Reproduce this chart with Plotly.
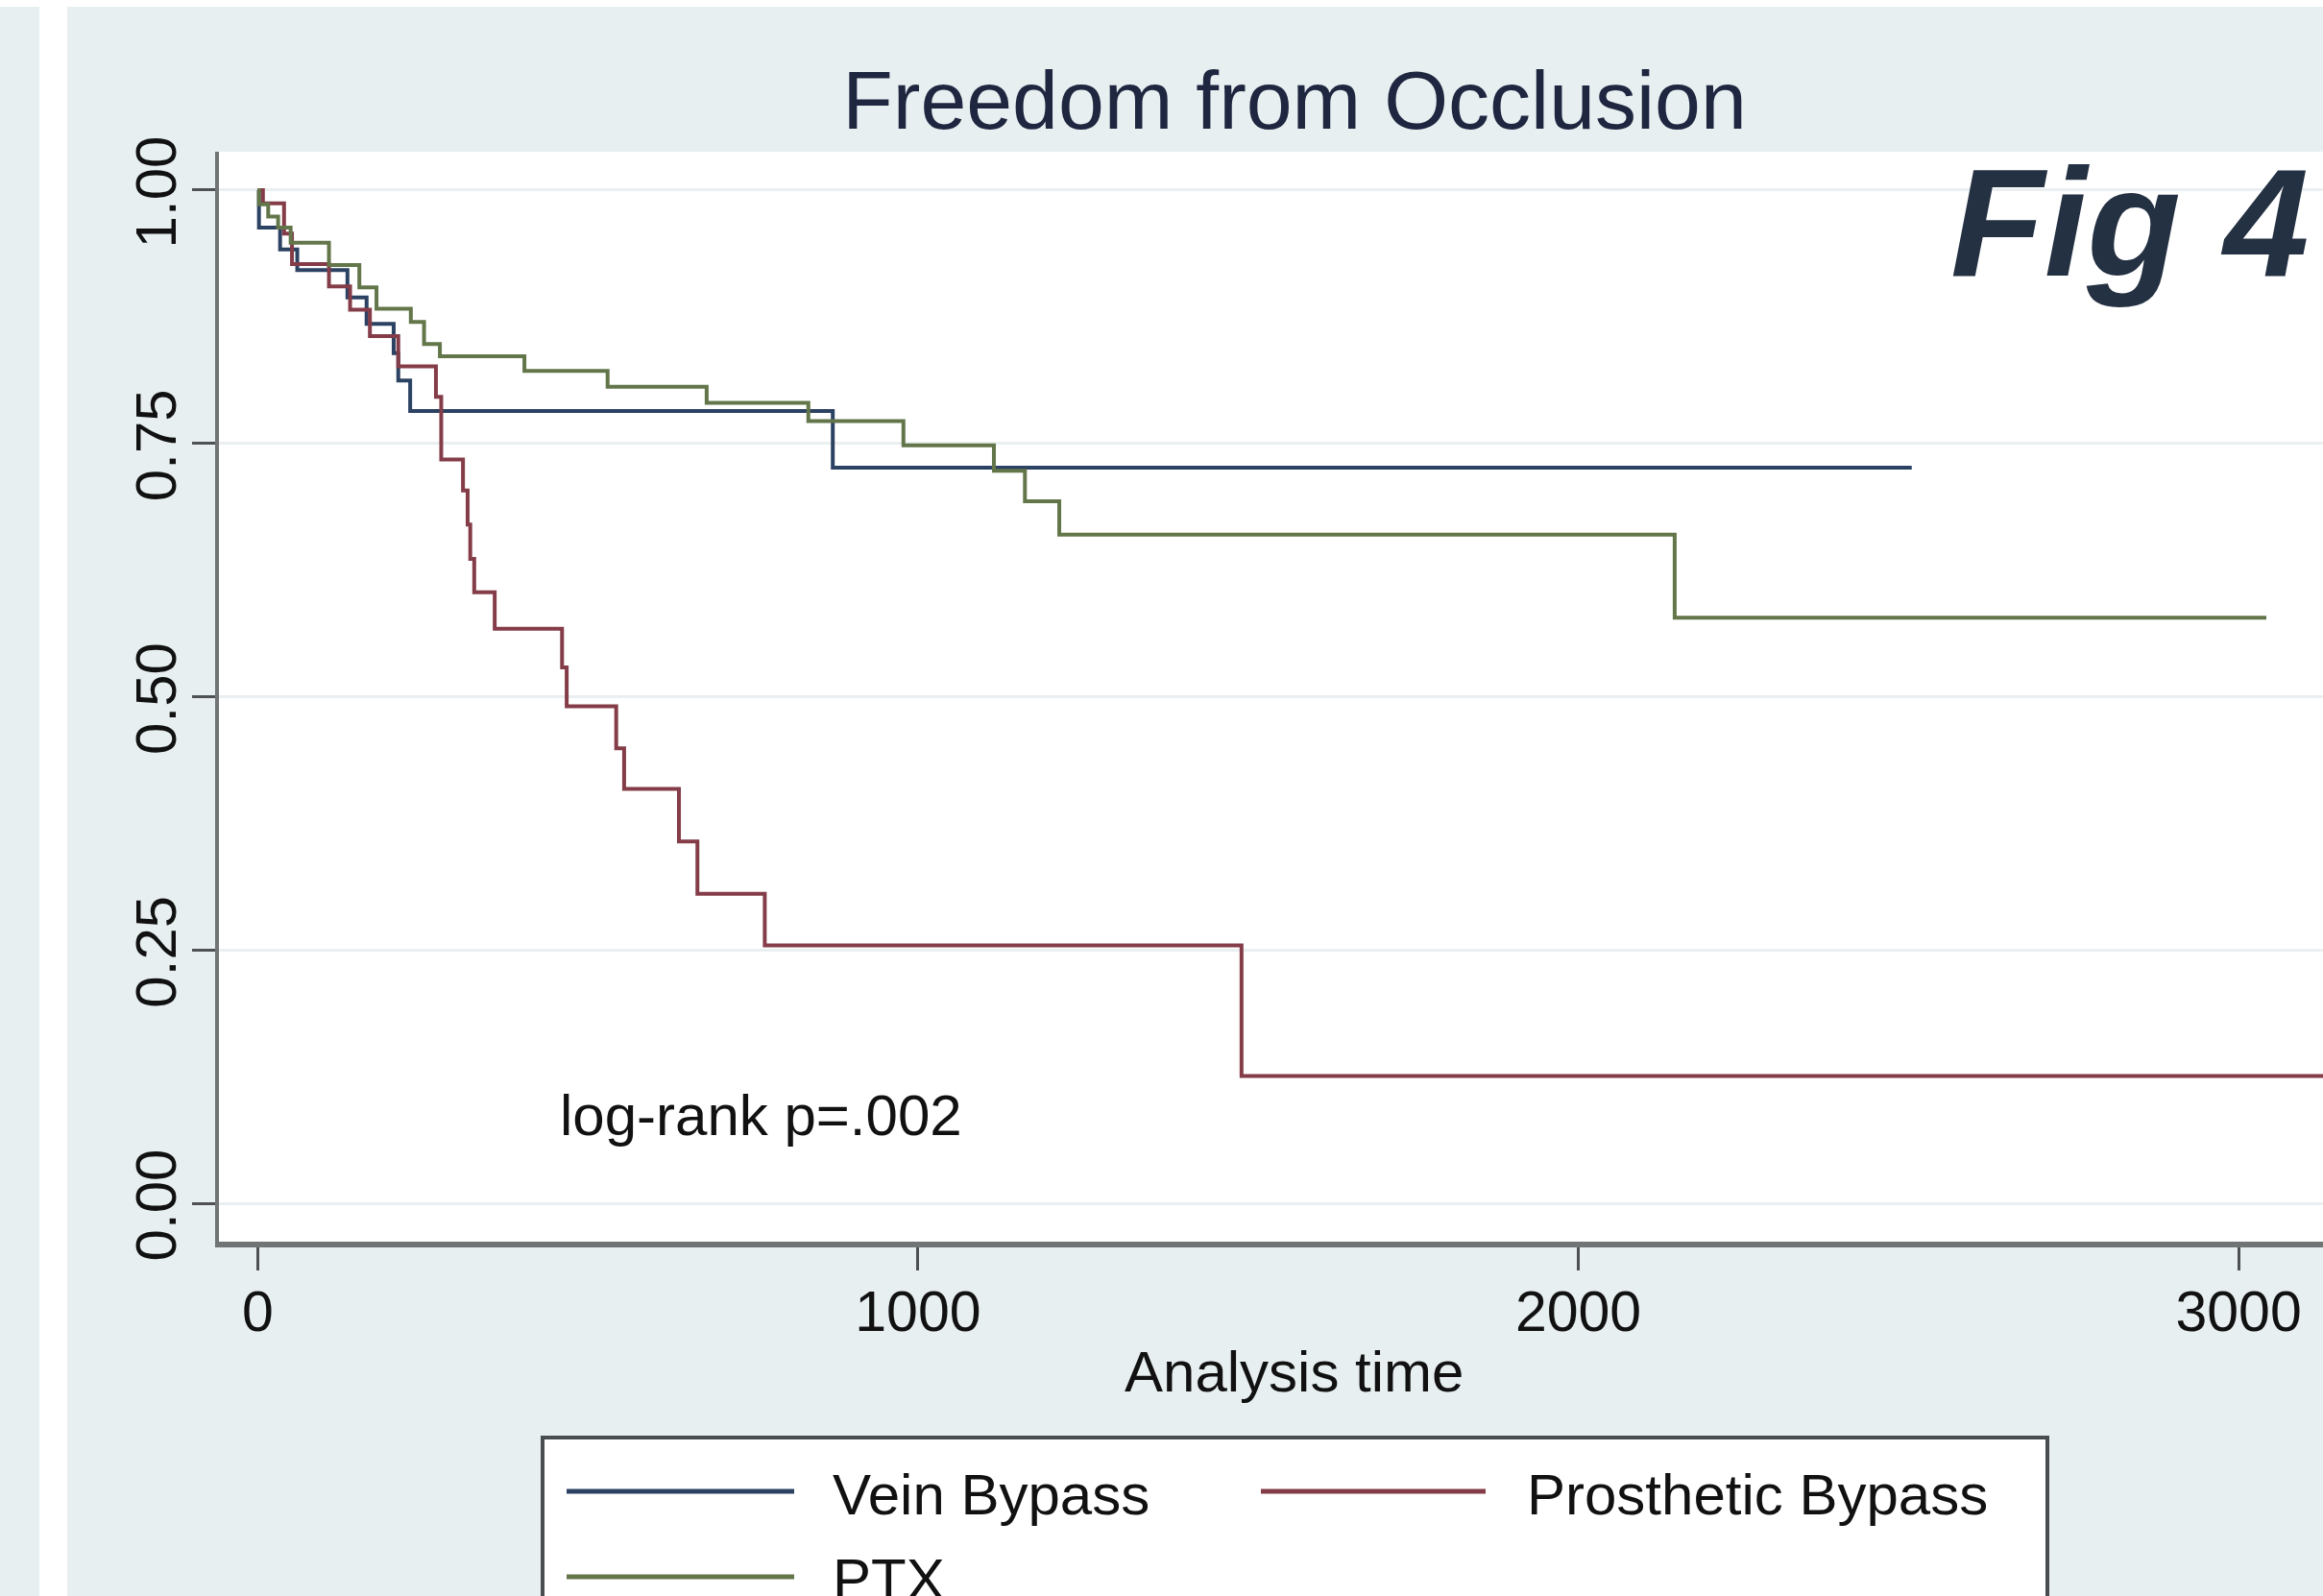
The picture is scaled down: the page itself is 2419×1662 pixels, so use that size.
import plotly.graph_objects as go

# ---------------- data ----------------
series_names = ["Vein Bypass", "Prosthetic Bypass", "PTX"]

vein_t = [0, 2, 34, 60, 136, 165, 206, 213, 231, 871, 2505]
vein_s = [1.0, 0.963, 0.9415, 0.921, 0.894, 0.868, 0.839, 0.812, 0.782, 0.726, 0.726]

prost_t = [0, 8, 40, 52, 108, 140, 170, 213, 270, 278, 311, 318, 322, 328,
           359, 461, 468, 543, 555, 638, 666, 768, 1490, 3130]
prost_s = [1.0, 0.987, 0.957, 0.927, 0.905, 0.882, 0.856, 0.826, 0.796, 0.734,
           0.7035, 0.67, 0.636, 0.603, 0.567, 0.529, 0.4905, 0.449, 0.409,
           0.357, 0.3055, 0.2546, 0.1256, 0.1256]

ptx_t = [0, 2, 16, 31, 50, 108, 154, 180, 232, 252, 276, 404, 530, 680, 834,
         978, 1115, 1162, 1214, 2146, 3042]
ptx_s = [1.0, 0.986, 0.974, 0.963, 0.948, 0.926, 0.904, 0.883, 0.870, 0.848,
         0.836, 0.8216, 0.806, 0.790, 0.772, 0.748, 0.723, 0.693, 0.660, 0.578,
         0.578]

x_tick_vals = [0, 1000, 2000, 3000]
x_tick_text = ["0", "1000", "2000", "3000"]
y_tick_vals = [0, 0.25, 0.5, 0.75, 1.0]
y_tick_text = ["0.00", "0.25", "0.50", "0.75", "1.00"]

title_text = "Freedom from Occlusion"
x_title = "Analysis time"
note_text = "log-rank p=.002"
note_x, note_y = 763, 0.087
fig_label = "Fig 4"

colors = ["#2c4263", "#843d48", "#63764a"]

# ---------------- layout geometry ----------------
W, H = 2419, 1662
L, R, T, B = 228, 0, 158, 369
PW = W - L - R
PH = H - T - B


def px(xp):
    return (xp - L) / PW


def py(yp):
    return (H - B - yp) / PH


FONT = "Liberation Sans, Arial, Helvetica, sans-serif"
BG = "#e8eff1"

fig = go.Figure()
for name, t, s, c in zip(series_names, [vein_t, prost_t, ptx_t],
                         [vein_s, prost_s, ptx_s], colors):
    fig.add_trace(go.Scatter(x=t, y=s, mode="lines", name=name,
                             line=dict(color=c, width=4, shape="hv"),
                             showlegend=False))

shapes = [
    # white separating strips of the frame
    dict(type="rect", xref="paper", yref="paper", x0=px(41), x1=px(70),
         y0=py(1700), y1=py(-10), fillcolor="white", line=dict(width=0),
         layer="below"),
    dict(type="rect", xref="paper", yref="paper", x0=px(-10), x1=px(2440),
         y0=py(7), y1=py(-10), fillcolor="white", line=dict(width=0),
         layer="below"),
    # legend box
    dict(type="rect", xref="paper", yref="paper", x0=px(565), x1=px(2132),
         y0=py(1720), y1=py(1497), fillcolor="white",
         line=dict(color="#4a4d4f", width=4), layer="above"),
]

# legend entries (line sample start px, end px, line y px, text x px, text y px)
legend_pos = [(590, 827, 1553, 865, 1556),
              (1313, 1547, 1553, 1588, 1556),
              (590, 827, 1642, 865, 1644)]
annotations = []
for name, c, (lx0, lx1, ly, tx, ty) in zip(series_names, colors, legend_pos):
    shapes.append(dict(type="line", xref="paper", yref="paper",
                       x0=px(lx0), x1=px(lx1), y0=py(ly), y1=py(ly),
                       line=dict(color=c, width=5), layer="above"))
    annotations.append(dict(text=name, xref="paper", yref="paper",
                            x=px(tx), y=py(ty), xanchor="left",
                            yanchor="middle", showarrow=False,
                            font=dict(family=FONT, size=60, color="#111111")))

annotations += [
    dict(text=x_title, xref="paper", yref="paper", x=px(1347), y=py(1428),
         xanchor="center", yanchor="middle", showarrow=False,
         font=dict(family=FONT, size=60, color="#111111")),
    dict(text=note_text, xref="x", yref="y", x=note_x, y=note_y,
         xanchor="center", yanchor="middle", showarrow=False,
         font=dict(family=FONT, size=60, color="#111111")),
    dict(text="<b><i>" + fig_label + "</i></b>", xref="paper", yref="paper",
         x=px(2406), y=py(231), xanchor="right", yanchor="middle",
         showarrow=False,
         font=dict(family=FONT, size=160, color="#243142")),
]

fig.update_layout(
    width=W, height=H,
    margin=dict(l=L, r=R, t=T, b=B, pad=0),
    paper_bgcolor=BG,
    plot_bgcolor="white",
    title=dict(text=title_text, x=1348 / W, xanchor="center",
               y=1 - 104 / H, yanchor="middle", yref="container",
               font=dict(family=FONT, size=86, color="#1e2640")),
    shapes=shapes,
    annotations=annotations,
    showlegend=False,
    xaxis=dict(range=[-58.6, 3127.8], showgrid=False, zeroline=False,
               showline=True, linecolor="#707475", linewidth=6,
               ticks="outside", ticklen=24, tickwidth=3, tickcolor="#4d5153",
               tickvals=x_tick_vals, ticktext=x_tick_text,
               tickfont=dict(family=FONT, size=59, color="#111111"),
               ticklabelstandoff=-8),
    yaxis=dict(range=[-0.0379, 1.0379], showgrid=True, gridcolor="#eaeff1",
               gridwidth=3, zeroline=False, showline=True,
               linecolor="#707475", linewidth=4, ticks="outside", ticklen=24,
               tickwidth=3, tickcolor="#4d5153",
               tickvals=y_tick_vals, ticktext=y_tick_text, tickangle=-90,
               tickfont=dict(family=FONT, size=60, color="#111111"),
               ticklabelstandoff=-7, ticklabelshift=11),
)

fig.write_html(
    "out.html",
    config={"displayModeBar": False},
    post_script="document.body.style.margin='0';"
                "document.body.style.overflow='hidden';",
)
